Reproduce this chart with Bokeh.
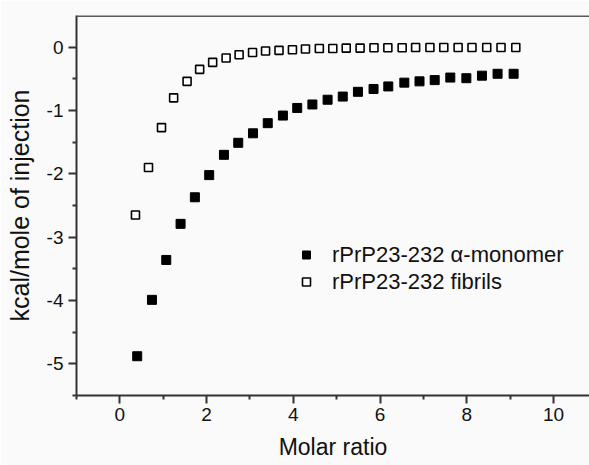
from bokeh.plotting import figure
from bokeh.models import Range1d, Legend, LegendItem, Span, FixedTicker
from bokeh.embed import file_html
from bokeh.resources import INLINE

# Data
fibril_x = [0.36, 0.66, 0.96, 1.24, 1.55, 1.84, 2.14, 2.45, 2.75, 3.06, 3.36, 3.67,
            3.98, 4.28, 4.60, 4.91, 5.22, 5.54, 5.86, 6.18, 6.51, 6.82, 7.15, 7.47,
            7.80, 8.12, 8.46, 8.79, 9.13]
fibril_y = [-2.65, -1.90, -1.27, -0.80, -0.54, -0.35, -0.24, -0.17, -0.12, -0.085, -0.06, -0.05,
            -0.04, -0.03, -0.02, -0.02, -0.015, -0.015, -0.01, -0.01, -0.01, -0.005, -0.005, -0.005,
            -0.005, -0.005, -0.005, -0.005, -0.005]
mono_x = [0.40, 0.74, 1.07, 1.40, 1.73, 2.06, 2.40, 2.73, 3.07, 3.41, 3.76, 4.09, 4.44,
          4.79, 5.14, 5.49, 5.85, 6.19, 6.56, 6.91, 7.26, 7.62, 7.99, 8.35, 8.71, 9.08]
mono_y = [-4.88, -3.99, -3.36, -2.79, -2.37, -2.02, -1.70, -1.51, -1.36, -1.20, -1.08, -0.96, -0.905,
          -0.83, -0.78, -0.705, -0.66, -0.62, -0.56, -0.54, -0.52, -0.48, -0.49, -0.45, -0.42, -0.42]
x_ticks = [0, 2, 4, 6, 8, 10]
y_ticks = [-5, -4, -3, -2, -1, 0]
labels = ["rPrP23-232 \u03b1-monomer", "rPrP23-232 fibrils"]

FONT = "Liberation Sans"
BG = "#fafafa"

p = figure(width=589, height=465, output_backend="svg", toolbar_location=None,
           x_range=Range1d(-1, 10.83), y_range=Range1d(-5.5, 0.5),
           min_border_left=76, min_border_right=0, min_border_top=15, min_border_bottom=70,
           background_fill_color=BG, border_fill_color=BG)
p.outline_line_color = None
p.grid.visible = False

r_mono = p.scatter(mono_x, mono_y, marker="square", size=9, fill_color="black",
                   line_color="black", line_width=1)
r_fib = p.scatter(fibril_x, fibril_y, marker="square", size=8, fill_color="white",
                  line_color="black", line_width=1.6)

for ax in (p.xaxis[0], p.yaxis[0]):
    ax.axis_line_width = 2
    ax.axis_line_color = "#333333"
    ax.major_tick_line_color = "#333333"
    ax.minor_tick_line_color = "#333333"
    ax.major_tick_line_width = 2
    ax.minor_tick_line_width = 2
    ax.major_tick_out = 8
    ax.major_tick_in = 0
    ax.minor_tick_out = 4
    ax.minor_tick_in = 0
    ax.major_label_text_font = FONT
    ax.major_label_text_font_size = "19px"
    ax.major_label_text_color = "#111111"
    ax.axis_label_text_font = FONT
    ax.axis_label_text_font_style = "normal"
    ax.axis_label_text_color = "#111111"

p.xaxis[0].ticker = FixedTicker(ticks=x_ticks, minor_ticks=[-1, 1, 3, 5, 7, 9])
p.yaxis[0].ticker = FixedTicker(ticks=y_ticks, minor_ticks=[-5.5, -4.5, -3.5, -2.5, -1.5, -0.5])
p.xaxis[0].major_label_overrides = {t: str(t) for t in x_ticks}
p.yaxis[0].major_label_overrides = {t: str(t) for t in y_ticks}
p.xaxis[0].axis_label = "Molar ratio"
p.yaxis[0].axis_label = "kcal/mole of injection"
p.xaxis[0].axis_label_text_font_size = "23px"
p.yaxis[0].axis_label_text_font_size = "25px"
p.xaxis[0].major_label_standoff = 4
p.yaxis[0].major_label_standoff = 5
p.xaxis[0].axis_label_standoff = 10
p.yaxis[0].axis_label_standoff = 10

top = Span(location=0.5, dimension="width", line_color="#5a5a5a", line_width=3)
p.add_layout(top)

legend = Legend(items=[LegendItem(label=labels[0], renderers=[r_mono]),
                       LegendItem(label=labels[1], renderers=[r_fib])],
                location=(220, 100), padding=0, margin=0, spacing=0,
                glyph_height=27, glyph_width=20, label_standoff=16,
                label_text_font=FONT, label_text_font_size="22px",
                label_text_color="#111111",
                background_fill_alpha=0, border_line_color=None)
p.add_layout(legend, "center")

open("out.html", "w").write(file_html(p, INLINE))
